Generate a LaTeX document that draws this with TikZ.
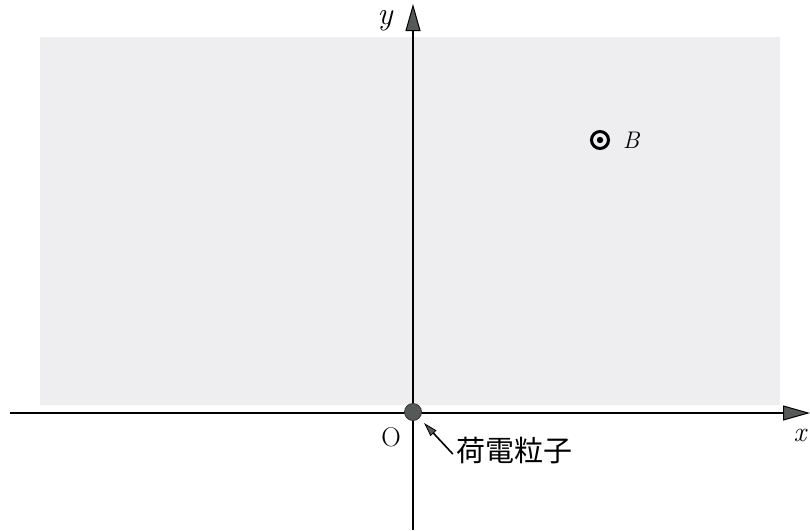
\documentclass[tikz,border=0pt]{standalone}
\usepackage{fontspec}
\newfontfamily\jpfont{Noto Sans CJK JP}
\usetikzlibrary{arrows.meta}
\definecolor{fieldgray}{HTML}{EEEEF0}
\definecolor{tipgray}{HTML}{555A58}
\begin{document}
\begin{tikzpicture}[x=1pt,y=-1pt,
  axis/.style={line width=2pt,-{Triangle[length=27pt,width=15pt,fill=tipgray,line width=1pt]}},
  ptr/.style={line width=1.6pt,-{Triangle[length=14pt,width=8pt,fill=tipgray,line width=0.8pt]}},
  lab/.style={inner sep=0pt,font=\itshape\fontsize{28}{30}\selectfont}]
\useasboundingbox (0,0) rectangle (810,530);
\fill[fieldgray] (40,37) rectangle (780,405);
\coordinate (xs) at (10,413);
\coordinate (xe) at (810,413);
\coordinate (ys) at (413,530);
\coordinate (ye) at (413,4);
\draw[axis] (xs) -- (xe);
\draw[axis] (ys) -- (ye);
\node[circle,fill=tipgray,draw=black!80,line width=0.8pt,minimum size=17pt,inner sep=0pt] (q) at (413,412) {};
\node[lab,font=\itshape\fontsize{32}{34}\selectfont] (ylab) at (385,21) {y};
\node[lab] (xlab) at (800,435) {x};
\node[lab,font=\upshape\fontsize{27}{30}\selectfont] (olab) at (391,437) {O};
\node[circle,draw=black,line width=3pt,minimum size=17pt,inner sep=0pt] (bsym) at (600,140) {};
\fill (bsym.center) circle (3.2pt);
\node[lab,font=\itshape\fontsize{24}{26}\selectfont] (blab) at (631,140) {B};
\node[inner sep=0pt,font=\jpfont\fontsize{29}{32}\selectfont] (lbl) at (514,451) {荷電粒子};
\coordinate (tip) at (424,423);
\draw[ptr] ([xshift=-3pt,yshift=-3pt]lbl.west) -- (tip);
\end{tikzpicture}
\end{document}
